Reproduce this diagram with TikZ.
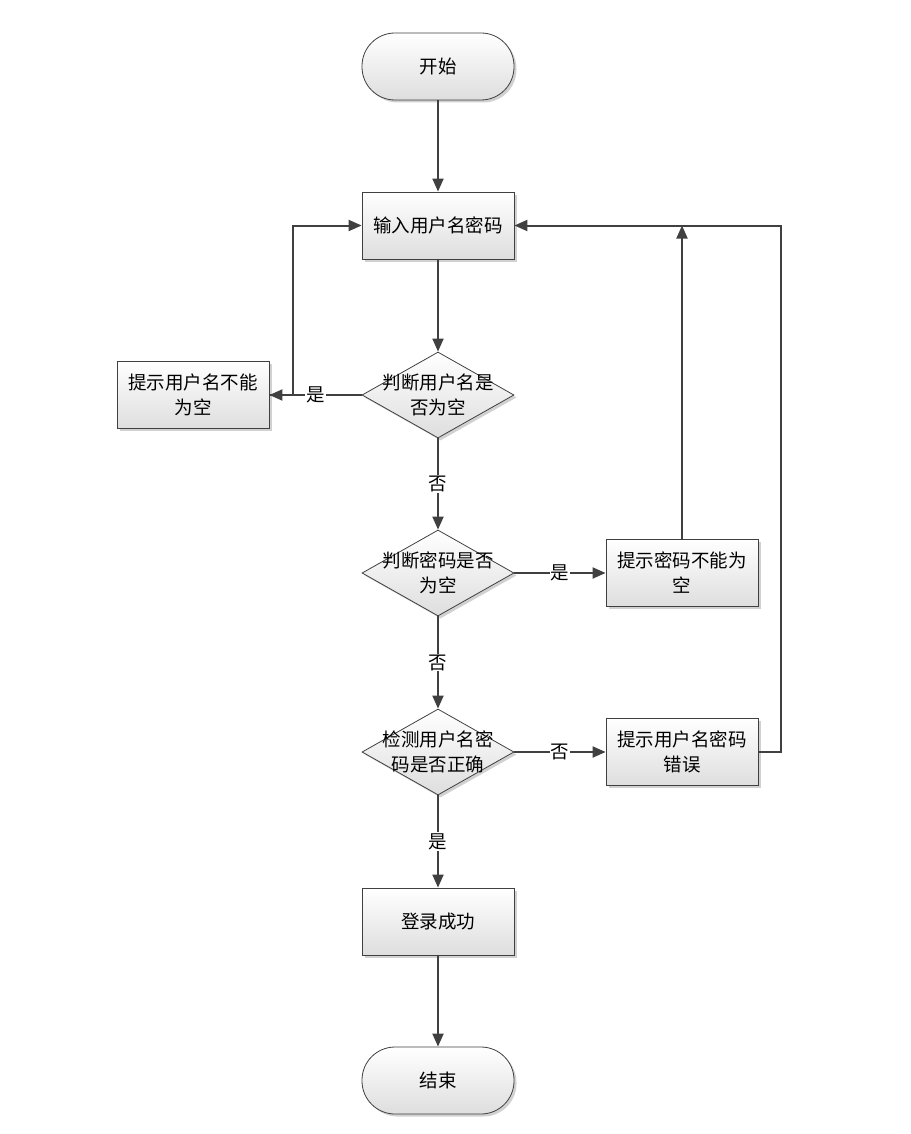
\documentclass[tikz,border=0pt]{standalone}
\usepackage{fontspec}
\setmainfont{Noto Sans CJK SC}
\usetikzlibrary{shapes.geometric,arrows.meta,shadows}
\begin{document}
\begin{tikzpicture}[x=1pt,y=-1pt,
  shapefill/.style={draw=black!75, line width=0.8pt, top color=white, bottom color=black!13,
    drop shadow={shadow xshift=2.5pt, shadow yshift=-2.5pt, opacity=0.3, fill=black!60}},
  txt/.style={font=\fontsize{18.5}{25}\selectfont, align=center},
  procbox/.style={shapefill, rectangle, minimum width=152pt, minimum height=67pt, inner sep=0pt, txt},
  termbox/.style={procbox, rounded corners=33pt},
  decbox/.style={shapefill, diamond, aspect=1.767, minimum width=152pt, minimum height=86pt, inner sep=0pt},
  arr/.style={draw=black!75, line width=2pt, -{Triangle[length=13pt,width=11pt]}},
  lab/.style={fill=white, inner sep=1pt, txt}
]
\useasboundingbox (0,0) rectangle (910,1134);

\node[termbox] (st) at (438,66.5) {开始};
\node[procbox] (in) at (438,225.5) {输入用户名密码};
\node[decbox] (d1) at (438,395) {};
\node[txt] (d1t) at (438,395) {判断用户名是\\否为空};
\node[procbox] (lb) at (193,395) {提示用户名不能\\为空};
\node[decbox] (d2) at (438,573) {};
\node[txt] (d2t) at (438,573) {判断密码是否\\为空};
\node[procbox] (b2) at (682,573) {提示密码不能为\\空};
\node[decbox] (d3) at (438,752) {};
\node[txt] (d3t) at (438,752) {检测用户名密\\码是否正确};
\node[procbox] (b3) at (682,752) {提示用户名密码\\错误};
\node[procbox] (ok) at (438,921.5) {登录成功};
\node[termbox] (en) at (438,1080.5) {结束};

\draw[arr] (st) -- (in);
\draw[arr] (in) -- (d1);
\draw[arr] (d1.west) -- node[lab] {是} (lb.east);
\draw[arr] (lb.east) -- ++(24,0) |- (in.west);
\draw[arr] (d1.south) -- node[lab] {否} (d2.north);
\draw[arr] (d2.east) -- node[lab] {是} (b2.west);
\draw[arr] (b2.north) -- (b2.north |- in.east);
\draw[arr] (d2.south) -- node[lab] {否} (d3.north);
\draw[arr] (d3.east) -- node[lab] {否} (b3.west);
\draw[arr] (b3.east) -- ++(23,0) |- (in.east);
\draw[arr] (d3.south) -- node[lab] {是} (ok.north);
\draw[arr] (ok) -- (en);
\end{tikzpicture}
\end{document}
